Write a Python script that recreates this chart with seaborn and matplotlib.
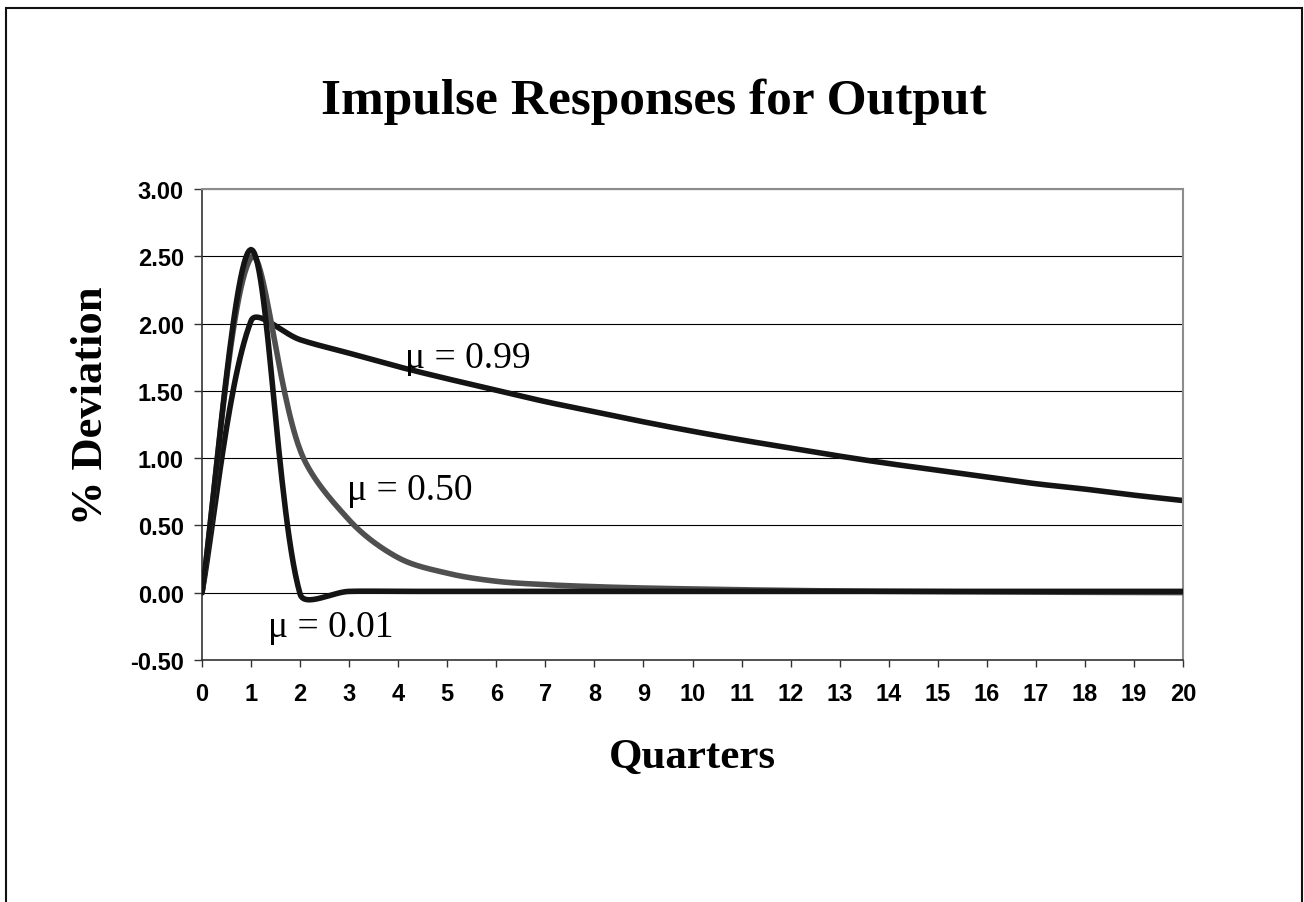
import matplotlib
matplotlib.use("Agg")
import matplotlib.pyplot as plt
import numpy as np
import pandas as pd
import seaborn as sns
from matplotlib.patches import Rectangle

# values (quarterly points 0..20)
quarters = list(range(21))
mu_099 = [0.00, 2.02, 1.88, 1.78, 1.68, 1.59, 1.505, 1.42, 1.345, 1.27, 1.20,
          1.135, 1.075, 1.015, 0.96, 0.91, 0.86, 0.81, 0.77, 0.725, 0.685]
mu_050 = [0.00, 2.49, 1.06, 0.54, 0.26, 0.145, 0.085, 0.06, 0.045, 0.035, 0.028,
          0.022, 0.017, 0.013, 0.01, 0.008, 0.006, 0.004, 0.003, 0.002, 0.001]
mu_001 = [0.00, 2.55, -0.01, 0.01, 0.01, 0.01, 0.01, 0.01, 0.01, 0.01, 0.01,
          0.01, 0.01, 0.01, 0.01, 0.01, 0.01, 0.01, 0.01, 0.01, 0.01]

y_ticks = [-0.5, 0.0, 0.5, 1.0, 1.5, 2.0, 2.5, 3.0]
y_tick_labels = ["-0.50", "0.00", "0.50", "1.00", "1.50", "2.00", "2.50", "3.00"]
labels = ["\u03bc = 0.99", "\u03bc = 0.50", "\u03bc = 0.01"]

W, H = 1304, 903


def smooth(xs, ys, ky=2.745, n=30, cap=1.4):
    # excel-like smoothed line: bezier handles scaled by neighbouring segment lengths
    pts = np.column_stack([xs, ys]).astype(float)
    m = len(pts)

    def dist(a, b):
        return np.hypot(b[0] - a[0], (b[1] - a[1]) * ky)

    out = []
    t = np.linspace(0, 1, n)[:, None]
    for i in range(m - 1):
        p0 = pts[max(i - 1, 0)]
        p1 = pts[i]
        p2 = pts[i + 1]
        p3 = pts[min(i + 2, m - 1)]
        d01, d12, d23 = dist(p0, p1), dist(p1, p2), dist(p2, p3)
        f1 = min(cap, 2 * d12 / (d01 + d12)) if d01 + d12 > 0 else 1.0
        f2 = min(cap, 2 * d12 / (d12 + d23)) if d12 + d23 > 0 else 1.0
        c1 = p1 + (p2 - p0) / 6 * f1
        c2 = p2 - (p3 - p1) / 6 * f2
        seg = ((1 - t) ** 3) * p1 + 3 * ((1 - t) ** 2) * t * c1 + 3 * (1 - t) * t ** 2 * c2 + t ** 3 * p2
        out.append(seg if i == 0 else seg[1:])
    arr = np.vstack(out)
    return arr[:, 0], arr[:, 1]


sns.set_theme(style="white")
plt.rcParams["axes.unicode_minus"] = False
plt.rcParams["text.color"] = "black"
plt.rcParams["xtick.color"] = "black"
plt.rcParams["ytick.color"] = "black"

fig = plt.figure(figsize=(W / 100, H / 100), dpi=100)
fig.patch.set_facecolor("white")
ax = fig.add_axes([202 / W, 1 - 661 / H, 981 / W, 471 / H])

# horizontal gridlines
for v in y_ticks:
    ax.axhline(v, color="black", lw=0.8, zorder=1)

series = [(mu_099, "#141414", 2), (mu_050, "#4f4f4f", 3), (mu_001, "#141414", 4)]
for vals, col, z in series:
    sx, sy = smooth(quarters, vals)
    df = pd.DataFrame({"q": sx, "v": sy})
    sns.lineplot(data=df, x="q", y="v", ax=ax, color=col, lw=4.0, sort=False,
                 estimator=None, zorder=z, solid_capstyle="round")

ax.set_xlim(0, 20)
ax.set_ylim(-0.5, 3.0)
ax.set_xticks(quarters)
ax.set_xticklabels([str(q) for q in quarters])
ax.set_yticks(y_ticks)
ax.set_yticklabels(y_tick_labels)
ax.set_xlabel("")
ax.set_ylabel("")

for lab in ax.get_xticklabels() + ax.get_yticklabels():
    lab.set_fontfamily("Liberation Sans")
    lab.set_fontweight("bold")
    lab.set_fontsize(17)
    lab.set_color("black")

ax.tick_params(axis="x", direction="out", length=5, width=1, color="#333333", pad=10.5, bottom=True)
ax.tick_params(axis="y", direction="out", length=5.8, width=1, color="#333333", pad=7.2, left=True)

for side in ["left", "bottom"]:
    ax.spines[side].set_color("#333333")
    ax.spines[side].set_linewidth(1.2)
for side in ["top", "right"]:
    ax.spines[side].set_color("#8c8c8c")
    ax.spines[side].set_linewidth(1.5)


def px(x, y):
    return x / W, 1 - y / H


serif = "Liberation Serif"
fig.text(*px(654, 114), "Impulse Responses for Output", ha="center", va="baseline",
         fontfamily=serif, fontweight="bold", fontsize=37, color="black")
fig.text(*px(692, 768), "Quarters", ha="center", va="baseline",
         fontfamily=serif, fontweight="bold", fontsize=31, color="black")
fig.text(*px(91, 406), "% Deviation", ha="center", va="center", rotation=90,
         fontfamily=serif, fontweight="bold", fontsize=32, color="black")

label_pos = [(405, 368), (347, 500), (268, 637)]
for lab, (lx, ly) in zip(labels, label_pos):
    fig.text(*px(lx, ly), lab, ha="left", va="baseline",
             fontfamily=serif, fontsize=27, color="black")

# outer chart frame
fig.patches.append(Rectangle((6 / W, -0.05), 1296 / W, 1 - 9 / H + 0.05,
                             transform=fig.transFigure, fill=False,
                             edgecolor="#111111", lw=1.5))

fig.savefig("out.png", dpi=100)
